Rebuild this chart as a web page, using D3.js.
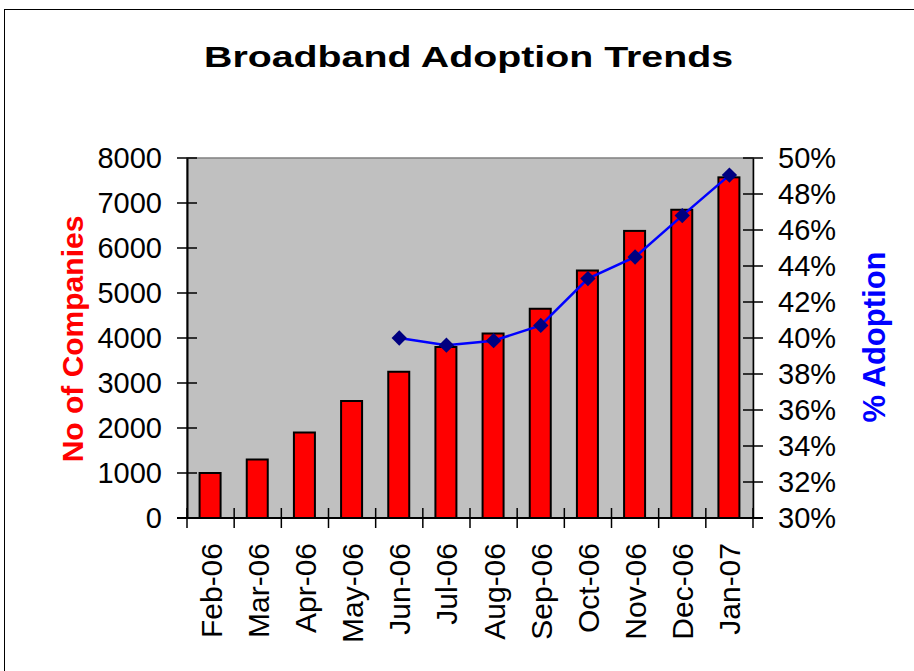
<!DOCTYPE html>
<html><head><meta charset="utf-8">
<script src="https://cdn.jsdelivr.net/npm/d3@7"></script>
<style>body{margin:0;background:#fff}svg{display:block}</style>
</head><body><svg id="c" width="914" height="671"></svg>
<script>
const categories = ["Feb-06","Mar-06","Apr-06","May-06","Jun-06","Jul-06","Aug-06","Sep-06","Oct-06","Nov-06","Dec-06","Jan-07"];
const companies = [1000,1300,1900,2600,3250,3800,4100,4650,5500,6380,6850,7570];
const adoption = [null,null,null,null,40.0,39.6,39.85,40.7,43.3,44.5,46.8,49.05];
const leftTicks = [0,1000,2000,3000,4000,5000,6000,7000,8000];
const rightTicks = [30,32,34,36,38,40,42,44,46,48,50];

const svg = d3.select("#c");
const font = "Arial, 'Liberation Sans', sans-serif";
const L=187,R=753,T=158,B=518;

svg.append("rect").attr("x",4.5).attr("y",9.5).attr("width",940).attr("height",700)
  .attr("fill","#fff").attr("stroke","#000").attr("stroke-width",1);

const xb = d3.scaleBand().domain(categories).range([L,R]);
const yL = d3.scaleLinear().domain([0,8000]).range([B,T]);
const yR = d3.scaleLinear().domain([30,50]).range([B,T]);
const cx = c => xb(c)+xb.bandwidth()/2;

svg.append("rect").attr("x",L).attr("y",T).attr("width",R-L).attr("height",B-T)
  .attr("fill","#c0c0c0").attr("stroke","#808080").attr("stroke-width",1.5);

svg.append("g").selectAll("rect").data(companies).join("rect")
  .attr("x",(d,i)=>cx(categories[i])-11)
  .attr("y",d=>yL(d)).attr("width",21).attr("height",d=>B-yL(d))
  .attr("fill","#ff0000").attr("stroke","#000").attr("stroke-width",2);

// left axis
const gl = svg.append("g").attr("transform",`translate(${L},0)`)
  .call(d3.axisLeft(yL).tickValues(leftTicks).tickSize(0).tickPadding(25).tickFormat(d3.format("d")));
gl.select(".domain").attr("stroke","#000").attr("stroke-width",2);
gl.selectAll("text").attr("font-family",font).attr("font-size",29).attr("fill","#000");
svg.append("g").selectAll("line").data(leftTicks).join("line")
  .attr("x1",L-10).attr("x2",L+10).attr("y1",d=>yL(d)).attr("y2",d=>yL(d))
  .attr("stroke","#000").attr("stroke-width",1.5);

// right axis
const gr = svg.append("g").attr("transform",`translate(${R},0)`)
  .call(d3.axisRight(yR).tickValues(rightTicks).tickSize(0).tickPadding(25).tickFormat(d=>d+"%"));
gr.select(".domain").attr("stroke","#000").attr("stroke-width",1.5);
gr.selectAll("text").attr("font-family",font).attr("font-size",29).attr("fill","#000");
svg.append("g").selectAll("line").data(rightTicks).join("line")
  .attr("x1",R-10).attr("x2",R+10).attr("y1",d=>yR(d)).attr("y2",d=>yR(d))
  .attr("stroke","#000").attr("stroke-width",1.5);

// bottom axis
svg.append("line").attr("x1",L-10).attr("x2",R+10).attr("y1",B).attr("y2",B).attr("stroke","#000").attr("stroke-width",2);
const bounds = categories.map(c=>xb(c)).concat([R]);
svg.append("g").selectAll("line").data(bounds).join("line")
  .attr("x1",d=>d).attr("x2",d=>d).attr("y1",B-10).attr("y2",B+10)
  .attr("stroke","#000").attr("stroke-width",1.5);
svg.append("g").selectAll("text").data(categories).join("text")
  .attr("transform",d=>`translate(${cx(d)+11},${B+25}) rotate(-90)`)
  .attr("text-anchor","end").attr("font-family",font).attr("font-size",30).text(d=>d);

// line
const pts = adoption.map((v,i)=>({v,c:categories[i]})).filter(d=>d.v!=null);
const line = d3.line().x(d=>cx(d.c)).y(d=>yR(d.v));
svg.append("path").datum(pts).attr("d",line).attr("fill","none").attr("stroke","#0000ff").attr("stroke-width",2.5);
svg.append("g").selectAll("path").data(pts).join("path")
  .attr("transform",d=>`translate(${cx(d.c)},${yR(d.v)})`)
  .attr("d",d3.symbol(d3.symbolDiamond2,150)).attr("fill","#000080");

// titles
svg.append("text").attr("x",204).attr("y",67)
  .attr("textLength",529).attr("lengthAdjust","spacingAndGlyphs")
  .attr("font-family",font).attr("font-weight","bold").attr("font-size",30).text("Broadband Adoption Trends");
svg.append("text").attr("transform","translate(83,339) rotate(-90)").attr("text-anchor","middle")
  .attr("font-family",font).attr("font-weight","bold").attr("font-size",30).attr("fill","#ff0000").text("No of Companies");
svg.append("text").attr("transform","translate(885,337) rotate(-90)").attr("text-anchor","middle")
  .attr("font-family",font).attr("font-weight","bold").attr("font-size",31).attr("fill","#0000ff").text("% Adoption");
</script></body></html>
